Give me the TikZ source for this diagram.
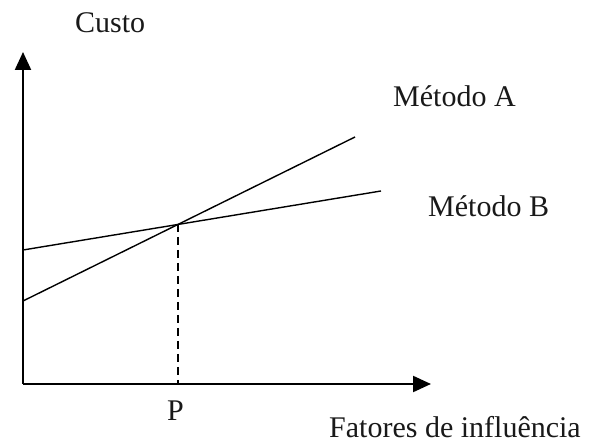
\documentclass[tikz,border=0pt]{standalone}
\usepackage{fontspec}
\setmainfont{Liberation Serif}
\usetikzlibrary{arrows.meta}
\begin{document}
\begin{tikzpicture}[x=1pt,y=-1pt,
  axis/.style={line width=2.2pt,-{Triangle[length=18pt,width=16pt]}},
  curve/.style={line width=1.4pt},
  guide/.style={line width=1.8pt,dash pattern=on 8pt off 5pt},
  lbl/.style={font=\fontsize{30}{35}\selectfont,inner sep=0pt,anchor=base west,text=black!90}]
\useasboundingbox (0,0) rectangle (590,443);
\coordinate (O) at (23,384);
\coordinate (Ytop) at (23,52);
\coordinate (Xend) at (431,384);
\coordinate (A0) at (23,301);
\coordinate (A1) at (355,137);
\coordinate (B0) at (23,250);
\coordinate (B1) at (381,191);
\coordinate (I) at (178,224);
\coordinate (Pfoot) at (178,384);
\draw[axis] (O) -- (Ytop);
\draw[axis] (O) -- (Xend);
\draw[curve] (A0) -- (A1);
\draw[curve] (B0) -- (B1);
\draw[guide] (I) -- (Pfoot);
\node[lbl] (custo) at (75,33) {Custo};
\node[lbl] (ma) at (393,107) {Método A};
\node[lbl] (mb) at (428,217) {Método B};
\node[lbl] (p) at (167,421) {P};
\node[lbl] (fat) at (329,438) {Fatores de influência};
\end{tikzpicture}
\end{document}
